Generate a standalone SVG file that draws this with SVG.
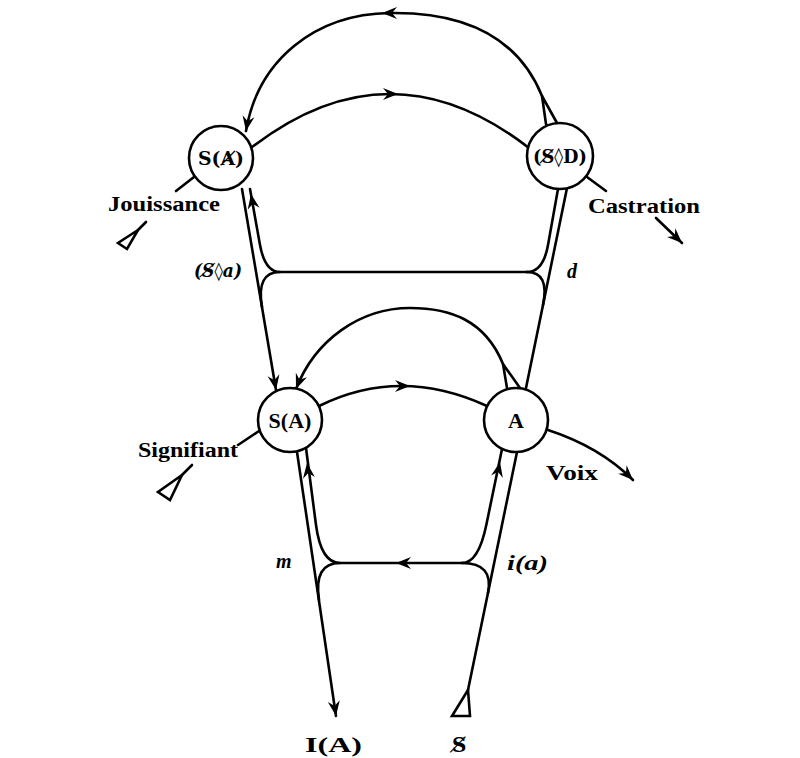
<svg xmlns="http://www.w3.org/2000/svg" xmlns:xlink="http://www.w3.org/1999/xlink" width="800" height="758" viewBox="0 0 800 758">
<style>
.ln{fill:none;stroke:#000;stroke-width:2.6;stroke-linecap:round;stroke-linejoin:round}
.nd{fill:#fff;stroke:#000;stroke-width:2.6}
.tri{fill:#fff;stroke:#000;stroke-width:2.6;stroke-linejoin:miter}
.t{font-family:'Liberation Serif','DejaVu Serif',serif;font-size:20px;font-weight:bold;fill:#000}
.nt{font-family:'Liberation Serif','DejaVu Serif',serif;font-size:22px;font-weight:bold;fill:#000;text-anchor:middle}
.dj{font-family:'DejaVu Serif',serif;font-weight:bold;fill:#000}
.it{font-style:italic}
</style>
<defs>
<path id="ah" d="M0,0 L-15,-6 L-10,0 L-15,6 Z" fill="#000"/>
<marker id="arr" viewBox="-16 -7 17 14" refX="0" refY="0" markerWidth="17" markerHeight="14" markerUnits="userSpaceOnUse" orient="auto">
<path d="M0,0 L-15,-6 L-10,0 L-15,6 Z" fill="#000"/>
</marker>
</defs>
<rect width="800" height="758" fill="#fff"/>
<g id="connectors">
<path class="ln" d="M542,96 C515,30 455,12 390,13 C315,14 258,60 246,131" marker-end="url(#arr)"/>
<path class="ln" d="M542,96 L546,124 M542,96 L557,123"/>
<use xlink:href="#ah" transform="translate(382,13) rotate(180)"/>
<path class="ln" d="M251,148 Q390,40 529,148"/>
<use xlink:href="#ah" transform="translate(398,94)"/>
<path class="ln" d="M242,189 L276,390" marker-end="url(#arr)"/>
<path class="ln" d="M250,189 L260,245 Q265,272 280,272 L527,272"/>
<path class="ln" d="M280,272 Q256,272 262,307"/>
<use xlink:href="#ah" transform="translate(251,194) rotate(-100)"/>
<path class="ln" d="M567,188 L526,388"/>
<path class="ln" d="M558,189 L548,245 Q543.2,272 527,272"/>
<path class="ln" d="M527,272 Q549.8,272 543,305"/>
<path class="ln" d="M319,406 Q400,366 487,406"/>
<use xlink:href="#ah" transform="translate(410,386)"/>
<path class="ln" d="M503,364 C485,320 450,308 410,308 C360,308 315,340 296,389" marker-end="url(#arr)"/>
<path class="ln" d="M503,364 L507,388 M503,364 L520,388"/>
<path class="ln" d="M297,452 L336,716" marker-end="url(#arr)"/>
<path class="ln" d="M306,448 L316,525 Q321,563 340,563 L462,563"/>
<path class="ln" d="M340,563 Q313.4,563 319,600"/>
<use xlink:href="#ah" transform="translate(307,463) rotate(-97.4)"/>
<use xlink:href="#ah" transform="translate(396,563) rotate(180)"/>
<path class="ln" d="M468,690 L517,452"/>
<path class="ln" d="M502,449 L486.3,525 Q478.5,563 462,563"/>
<path class="ln" d="M462,563 Q494,563 488,593"/>
<use xlink:href="#ah" transform="translate(500,462) rotate(-78.3)"/>
<polygon class="tri" points="468,690 452,716 470,716"/>
<path class="ln" d="M194,177 L176,191"/>
<path class="ln" d="M146,222 L138,230"/>
<polygon class="tri" points="138,230 118,243 127,249"/>
<path class="ln" d="M587,177 L606,191"/>
<path class="ln" d="M656,218 L682,243" marker-end="url(#arr)"/>
<path class="ln" d="M259,431 L238,445"/>
<path class="ln" d="M192,465 L182,475"/>
<polygon class="tri" points="182,475 158,492 170,500"/>
<path class="ln" d="M548,430 Q600,447 633,480" marker-end="url(#arr)"/>
</g>
<g id="node-S-barA"><circle class="nd" cx="221" cy="158" r="32"/><text class="dj" x="198" y="165" font-size="19" textLength="46" lengthAdjust="spacingAndGlyphs">S(Ⱥ)</text></g>
<g id="node-SD"><circle class="nd" cx="560" cy="156" r="33"/><text class="dj" x="533" y="163" font-size="19" textLength="54" lengthAdjust="spacingAndGlyphs">(S̸◊D)</text></g>
<g id="node-SA"><circle class="nd" cx="290" cy="420" r="32"/><text class="nt" x="290" y="428">S(A)</text></g>
<g id="node-A"><circle class="nd" cx="516" cy="420" r="32"/><text class="nt" x="516" y="428">A</text></g>
<g id="labels">
<text class="t" x="108" y="211" textLength="112" lengthAdjust="spacingAndGlyphs">Jouissance</text>
<text class="t" x="588" y="213" textLength="112" lengthAdjust="spacingAndGlyphs">Castration</text>
<text class="dj it" x="194" y="277" font-size="18" textLength="48" lengthAdjust="spacingAndGlyphs">(S̸◊a)</text>
<text class="t it" x="567" y="278">d</text>
<text class="t" x="138" y="457" textLength="100" lengthAdjust="spacingAndGlyphs">Signifiant</text>
<text class="t" x="546" y="480" textLength="52" lengthAdjust="spacingAndGlyphs">Voix</text>
<text class="t it" x="276" y="568">m</text>
<text class="t it" x="507" y="570" textLength="41" lengthAdjust="spacingAndGlyphs">i(a)</text>
<text class="t" x="305" y="752" textLength="57" lengthAdjust="spacingAndGlyphs">I(A)</text>
<text class="dj" x="452" y="752" font-size="20">S̸</text>
</g>
</svg>
